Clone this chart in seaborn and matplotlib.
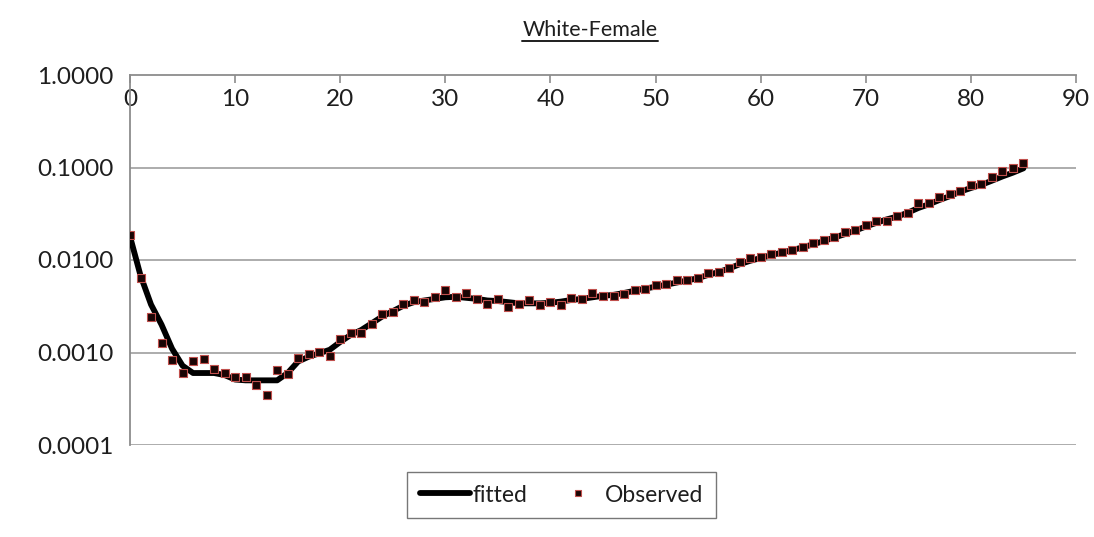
import numpy as np
import pandas as pd
import matplotlib
matplotlib.use("Agg")
import matplotlib.pyplot as plt
from matplotlib.lines import Line2D
from matplotlib.ticker import FixedLocator, FuncFormatter
import seaborn as sns

title = "White-Female"
ages = list(range(0, 86))

fitted = [
    0.0180, 0.0068, 0.0033, 0.0020, 0.0011, 0.00072, 0.00060, 0.00060, 0.00060, 0.00057,
    0.00051, 0.00050, 0.00050, 0.00050, 0.00050, 0.00060, 0.00080, 0.00090, 0.00098, 0.00107,
    0.00130, 0.00155, 0.00175, 0.00207, 0.00245, 0.00280, 0.00320, 0.00350, 0.00365, 0.00380,
    0.00395, 0.00400, 0.00390, 0.00380, 0.00365, 0.00360, 0.00350, 0.00340, 0.00340, 0.00340,
    0.00345, 0.00355, 0.00370, 0.00380, 0.00395, 0.00410, 0.00420, 0.00440, 0.00465, 0.00490,
    0.00515, 0.00540, 0.00570, 0.00600, 0.00635, 0.00690, 0.00740, 0.00810, 0.00900, 0.00980,
    0.01050, 0.01130, 0.01200, 0.01280, 0.01370, 0.01480, 0.01600, 0.01750, 0.01900, 0.02080,
    0.02300, 0.02520, 0.02750, 0.02950, 0.03250, 0.03650, 0.04000, 0.04450, 0.04900, 0.05500,
    0.06000, 0.06500, 0.07200, 0.08000, 0.08800, 0.09800,
]

observed = [
    0.0186, 0.00635, 0.00243, 0.00128, 0.000828, 0.00060, 0.00080, 0.00085, 0.00066, 0.00060,
    0.00054, 0.00054, 0.00044, 0.00035, 0.00064, 0.00059, 0.00088, 0.00097, 0.00102, 0.00091,
    0.00140, 0.00162, 0.00162, 0.00202, 0.00259, 0.00272, 0.00332, 0.00367, 0.00355, 0.00396,
    0.00474, 0.00396, 0.00444, 0.00382, 0.00335, 0.00377, 0.00313, 0.00335, 0.00367, 0.00324,
    0.00355, 0.00324, 0.00392, 0.00383, 0.00444, 0.00405, 0.00405, 0.00427, 0.00474, 0.00486,
    0.00537, 0.00555, 0.00608, 0.00603, 0.00635, 0.00719, 0.00743, 0.00813, 0.00950, 0.01043,
    0.01087, 0.01161, 0.01230, 0.01274, 0.01370, 0.01538, 0.01644, 0.01783, 0.01990, 0.02120,
    0.02400, 0.02640, 0.02620, 0.03000, 0.03250, 0.04100, 0.04100, 0.04810, 0.05130, 0.05620,
    0.06410, 0.06580, 0.07820, 0.09080, 0.09780, 0.11270,
]

x_ticks = [0, 10, 20, 30, 40, 50, 60, 70, 80, 90]
y_ticks = [0.0001, 0.001, 0.01, 0.1, 1.0]

df = pd.DataFrame({"age": ages, "fitted": fitted, "observed": observed})

sns.set_style("white")
plt.rcParams["font.family"] = ["Lato", "DejaVu Sans"]

W, H = 1094, 537
fig = plt.figure(figsize=(W / 100, H / 100), dpi=100)
ax = fig.add_axes([130 / W, 1 - 445 / H, 946 / W, 370 / H])

axis_gray = "#8c8c8c"
grid_gray = "#a6a6a6"
text_color = "#1e1e1e"

sns.lineplot(data=df, x="age", y="fitted", ax=ax, color="black", linewidth=4.2,
             label="fitted", zorder=3, legend=False)
sns.scatterplot(data=df, x="age", y="observed", ax=ax, marker="s", s=26,
                color="#1a0505", edgecolor="#c0504d", linewidth=0.8,
                label="Observed", zorder=4, legend=False)

ax.set_yscale("log")
ax.set_xlim(0, 90)
ax.set_ylim(0.0001, 1.0)
ax.yaxis.set_major_locator(FixedLocator(y_ticks))
ax.yaxis.set_minor_locator(FixedLocator([]))
ax.yaxis.set_major_formatter(FuncFormatter(lambda v, p: f"{v:.4f}"))
ax.set_xticks(x_ticks)

for yv in y_ticks[:-1]:
    ax.axhline(yv, color=grid_gray, linewidth=1.3, zorder=1)

for side in ("right", "bottom"):
    ax.spines[side].set_visible(False)
for side in ("left", "top"):
    ax.spines[side].set_color(axis_gray)
    ax.spines[side].set_linewidth(1.3)

# x axis sits on the 1.0 line; its labels hang just below it
ax.xaxis.tick_top()
ax.tick_params(axis="x", direction="in", length=6, width=1.2, color=axis_gray,
               pad=-25, labelsize=17.5, labelcolor=text_color)
ax.tick_params(axis="y", direction="out", length=6, width=1.2, color=axis_gray,
               pad=6, labelsize=17.5, labelcolor=text_color)
ax.set_xlabel("")
ax.set_ylabel("")

# Title with underline
t = fig.text(590 / W, 1 - 30 / H, title, ha="center", va="center",
             fontsize=15.5, color=text_color)
fig.canvas.draw()
bb = t.get_window_extent(fig.canvas.get_renderer())
uy = (bb.y0 - 1) / H
fig.add_artist(Line2D([bb.x0 / W, bb.x1 / W], [uy, uy], transform=fig.transFigure,
                      color=text_color, linewidth=1.4))

handles = [
    Line2D([], [], color="black", linewidth=4.2),
    Line2D([], [], linestyle="none", marker="s", markersize=4.8,
           markerfacecolor="#1a0505", markeredgecolor="#c0504d", markeredgewidth=0.8),
]
leg = fig.legend(handles, ["fitted", "Observed"], loc="center",
                 bbox_to_anchor=(561.5 / W, 1 - 495 / H), bbox_transform=fig.transFigure,
                 ncol=2, fontsize=16.5, frameon=True, fancybox=False, handlelength=2.2,
                 handletextpad=0.1, columnspacing=1.1, borderpad=0.55)
leg.get_frame().set_edgecolor("#555555")
leg.get_frame().set_linewidth(1.0)
for txt in leg.get_texts():
    txt.set_color(text_color)

fig.savefig("out.png", dpi=100)
